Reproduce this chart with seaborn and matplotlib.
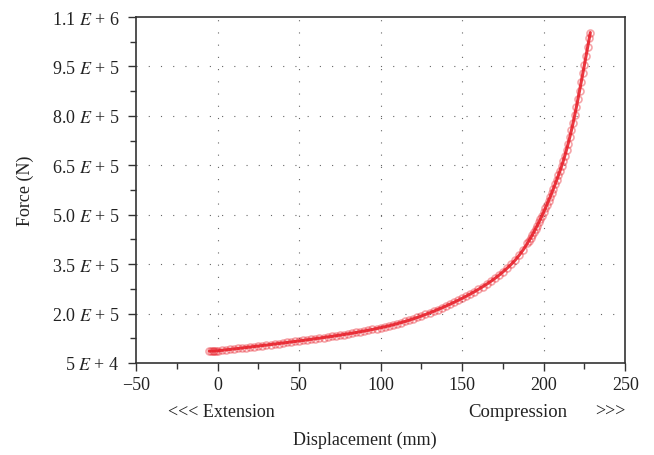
import numpy as np
import pandas as pd
import seaborn as sns
import matplotlib
matplotlib.use("Agg")
import matplotlib.pyplot as plt
import matplotlib.ticker as ticker

# Data (displacement in mm, force in N)
displacement = [
    -5, -4, -3, -2, -1, 0, 2.5, 5, 7.5, 10, 12.5, 15, 17.5, 20, 22.5, 25, 27.5, 30,
    32.5, 35, 37.5, 40, 42.5, 45, 47.5, 50, 52.5, 55, 57.5, 60, 62.5, 65, 67.5, 70,
    72.5, 75, 77.5, 80, 82.5, 85, 87.5, 90, 92.5, 95, 97.5, 100, 102.5, 105, 107.5,
    110, 112.5, 115, 117.5, 120, 122.5, 125, 127.5, 130, 132.5, 135, 137.5, 140,
    142.5, 145, 147.5, 150, 152.5, 155, 157.5, 160, 162.5, 165, 167.5, 170, 172.5,
    175, 177.5, 180, 182.5, 185, 187.5, 190, 191, 192, 193, 194, 195, 196, 197, 198,
    199, 200, 201, 202, 203, 204, 205, 206, 207, 208, 209, 210, 211, 212, 213, 214,
    215, 216, 217, 218, 219, 220, 221, 222, 223, 224, 225, 226, 227, 228, 228.6,
]
force = [
    86000, 86000, 86200, 86400, 86700, 87000, 88400, 89800, 91200, 92600, 94000,
    95500, 96900, 98400, 99900, 101400, 102900, 104400, 105900, 107500, 109000,
    110600, 112200, 113800, 115400, 117000, 118600, 120300, 122000, 123700, 125400,
    127200, 129000, 130800, 132600, 134500, 136400, 138400, 140500, 142600, 144800,
    147100, 149500, 151900, 154400, 157000, 159700, 162600, 165700, 169000, 172500,
    176100, 180000, 184000, 188200, 192600, 197200, 202000, 206900, 212000, 217300,
    222800, 228400, 234200, 240200, 246400, 252800, 259500, 266400, 273700, 281300,
    289100, 297500, 306500, 316100, 326500, 337500, 349100, 362100, 377100, 394100,
    413100, 421300, 429700, 438500, 447500, 456900, 466500, 476500, 486700, 497300,
    508100, 519300, 530700, 542500, 554500, 566900, 579500, 592500, 605700, 619300,
    633100, 647600, 663100, 679600, 697100, 715600, 735200, 756000, 778000, 801200,
    825600, 850800, 876400, 902400, 928800, 955600, 982600, 1009600, 1036600, 1052800,
]

x_ticks = [-50, 0, 50, 100, 150, 200, 250]
y_ticks = [50000, 200000, 350000, 500000, 650000, 800000, 950000, 1100000]
y_tick_labels = [r"5 $E$ + 4", r"2.0 $E$ + 5", r"3.5 $E$ + 5", r"5.0 $E$ + 5",
                 r"6.5 $E$ + 5", r"8.0 $E$ + 5", r"9.5 $E$ + 5", r"1.1 $E$ + 6"]

df = pd.DataFrame({"disp": displacement, "force": force})

sns.set_style("ticks")
plt.rcParams["font.family"] = ["Liberation Serif", "DejaVu Serif"]
plt.rcParams["mathtext.fontset"] = "stix"
plt.rcParams["font.size"] = 13

red = "#e8202a"

fig = plt.figure(figsize=(6.54, 4.56), dpi=100)
ax = fig.add_axes([0.208, 0.2018, 0.748, 0.7587])

sns.lineplot(data=df, x="disp", y="force", sort=False, estimator=None,
             color=red, lw=2.2, alpha=0.9, ax=ax)
sns.lineplot(data=df, x="disp", y="force", sort=False, estimator=None,
             color=red, linestyle="none", marker="o", markersize=5,
             markerfacecolor="none", markeredgecolor=red, markeredgewidth=1.2,
             alpha=0.4, ax=ax)

ax.set_xlim(-50, 250)
ax.set_ylim(50000, 1100000)
ax.set_xticks(x_ticks)
ax.set_yticks(y_ticks)
ax.set_yticklabels(y_tick_labels)
ax.xaxis.set_minor_locator(ticker.MultipleLocator(25))
ax.yaxis.set_minor_locator(ticker.FixedLocator(
    [125000, 275000, 425000, 575000, 725000, 875000, 1025000]))

ax.tick_params(axis="both", which="major", direction="out", length=6, width=1,
               color="#333333", labelsize=13, labelcolor="#222222")
ax.tick_params(axis="both", which="minor", direction="out", length=4, width=1,
               color="#333333")
ax.tick_params(axis="y", pad=6)

# dotted grid at inner major ticks
for xv in x_ticks[1:-1]:
    ax.axvline(xv, color="#666666", lw=0.8, ls=(0, (1, 10)), zorder=0)
for yv in y_ticks[1:-1]:
    ax.axhline(yv, color="#666666", lw=0.8, ls=(0, (1, 10)), zorder=0)

for sp in ax.spines.values():
    sp.set_visible(True)
    sp.set_color("#333333")
    sp.set_linewidth(1.2)

ax.set_xlabel("")
ax.set_ylabel("")

ax.text(0.065, -0.139, "<<< Extension", transform=ax.transAxes,
        ha="left", va="center", fontsize=13, color="#222222")
ax.text(0.781, -0.139, "Compression", transform=ax.transAxes,
        ha="center", va="center", fontsize=13.5, color="#222222")
ax.text(0.969, -0.139, ">>>", transform=ax.transAxes,
        ha="center", va="center", fontsize=13, color="#222222")
ax.text(0.468, -0.22, "Displacement (mm)", transform=ax.transAxes,
        ha="center", va="center", fontsize=13, color="#222222")
ax.text(-0.227, 0.5, "Force (N)", transform=ax.transAxes, rotation=90,
        ha="center", va="center", fontsize=13, color="#222222")

fig.savefig("out.png", dpi=100)
